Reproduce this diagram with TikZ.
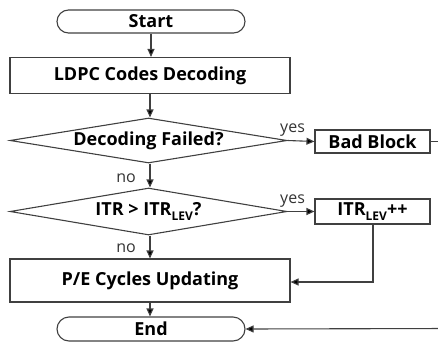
\documentclass[tikz,border=0pt]{standalone}
\usepackage{fontspec}
\setmainfont{Open Sans}
\usetikzlibrary{shapes.geometric,shapes.misc,arrows.meta}
\newcommand\levsub{\raisebox{-0.45ex}{\fontsize{12}{12}\selectfont LEV}}
\begin{document}
\begin{tikzpicture}[x=1pt,y=-1pt,
  line/.style={draw=black!75,line width=1.1pt},
  arr/.style={line,-{Triangle[length=8pt,width=7pt,fill=black]}},
  boxlabel/.style={font=\fontsize{18}{18}\selectfont\bfseries,text=black},
  process/.style={line,rectangle,inner sep=0pt,boxlabel},
  terminal/.style={line,rounded rectangle,inner sep=0pt,boxlabel},
  decision/.style={line,diamond,shape aspect=6,inner sep=0pt,boxlabel},
  tag/.style={font=\fontsize{16}{16}\selectfont,text=black!80,inner sep=0pt}]
\useasboundingbox (0,0) rectangle (438,342);

% main column
\node[terminal,minimum width=188pt,minimum height=23pt] (start) at (151,21.5) {Start};
\node[process,minimum width=280pt,minimum height=36pt] (ldpc) at (150,75.5) {LDPC Codes Decoding};
\node[decision,minimum width=277pt,minimum height=45pt] (fail) at (148.5,140.5) {Decoding Failed?};
\node[decision,minimum width=277pt,minimum height=47pt] (itr) at (148.5,211.5) {ITR {>} ITR\levsub?};
\node[process,minimum width=280pt,minimum height=43pt] (pe) at (150,280.5) {P/E Cycles Updating};
\node[terminal,minimum width=188pt,minimum height=24pt] (end) at (151,329) {End};

% side column
\node[process,minimum width=115pt,minimum height=23pt] (bad) at (372.5,141.5) {Bad Block};
\node[process,minimum width=115pt,minimum height=25pt] (inc) at (372.5,211.5) {ITR\levsub++};

\coordinate (badout) at (450,141.5);
\coordinate (endin) at (450,328.5);
\coordinate (incturn) at (373,282);

% vertical flow
\draw[arr] (start.south) -- (start.south |- ldpc.north);
\draw[arr] (ldpc.south) -- (ldpc.south |- fail.north);
\draw[arr] (ldpc.south |- fail.south) -- (ldpc.south |- itr.north);
\draw[arr] (ldpc.south |- itr.south) -- (pe.north);
\draw[arr] (pe.south) -- (pe.south |- end.north);
\node[tag,anchor=base east] (no1) at (136,182) {no};
\node[tag,anchor=base east] (no2) at (136,252) {no};

% yes branches
\draw[arr] (fail.east) -- (bad.west);
\draw[arr] (itr.east) -- (inc.west);
\node[tag,anchor=base] (yes1) at ([shift={(5pt,8pt)}]fail.east) {yes};
\node[tag,anchor=base] (yes2) at ([shift={(5pt,8pt)}]itr.east) {yes};

% return paths
\draw[arr] (inc.south -| incturn) -- (incturn) -- (incturn -| pe.east);
\draw[line] (bad.east) -- (badout);
\draw[arr] (endin) -- (end.east);
\end{tikzpicture}
\end{document}
